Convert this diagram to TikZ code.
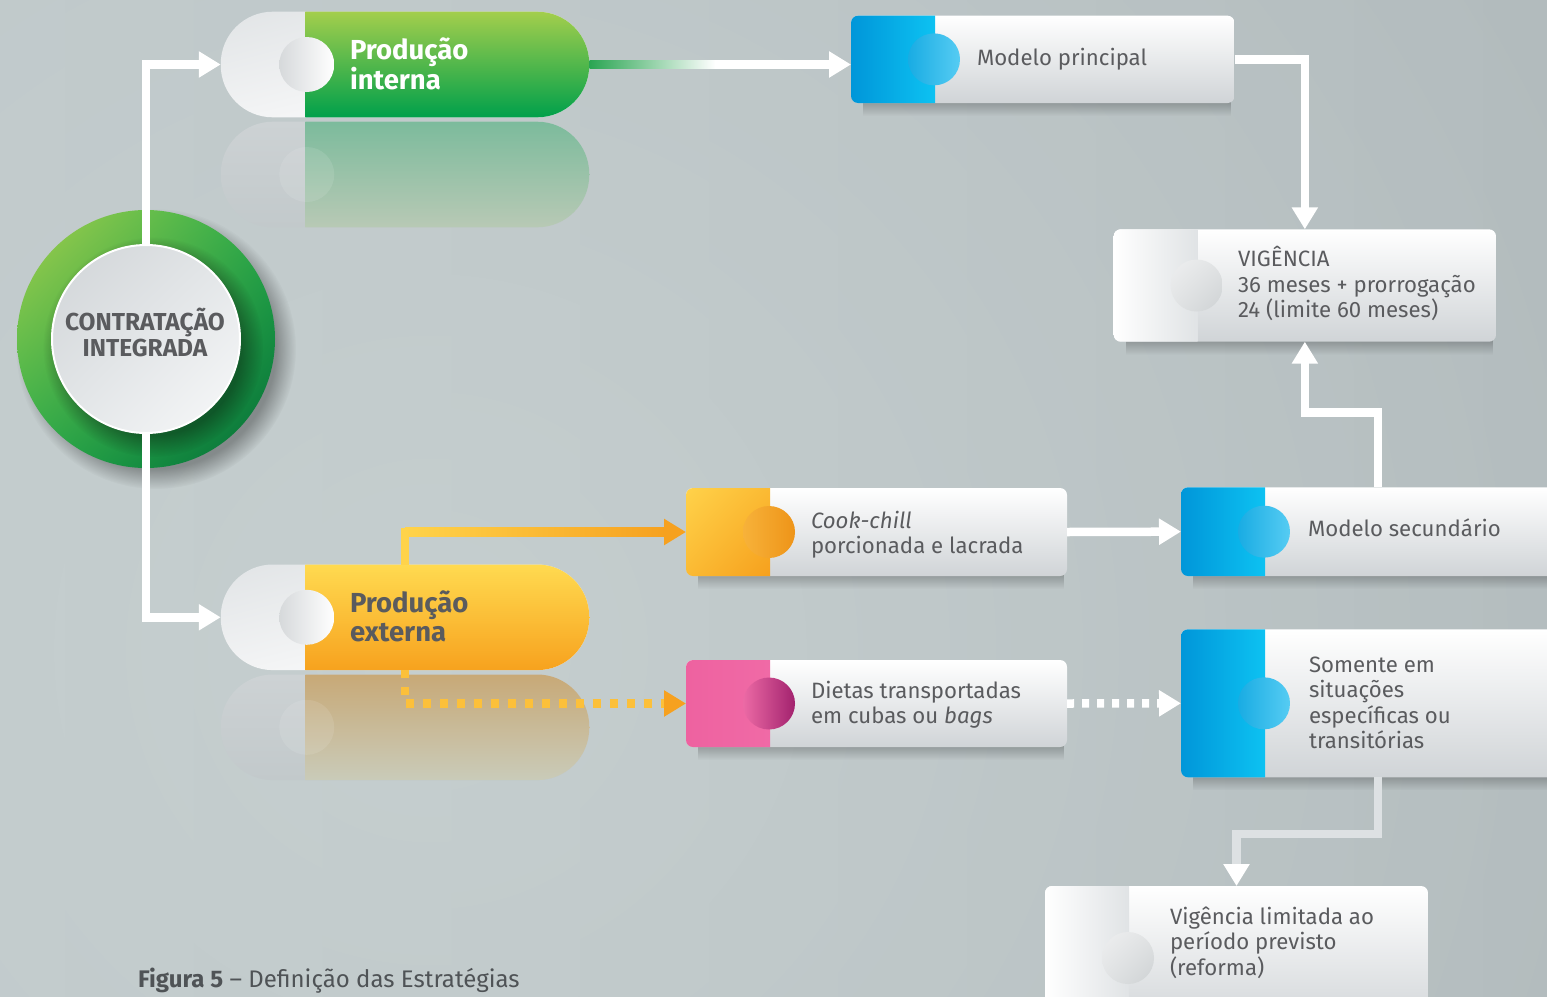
\documentclass[tikz,border=0pt]{standalone}
\usepackage{fontspec}
\setmainfont{Fira Sans}
\usetikzlibrary{arrows.meta,calc,fadings,shadings}
\definecolor{txtgray}{HTML}{5A5B5E}
\definecolor{capgray}{HTML}{4F5356}
\definecolor{cardbot}{HTML}{D0D4D7}
\definecolor{bgL}{HTML}{BEC7C9}
\definecolor{bgR}{HTML}{B2BBBD}
\definecolor{bgglow}{HTML}{CAD3D3}
\definecolor{ringA}{HTML}{A8D04C}
\definecolor{ringB}{HTML}{28AC4A}
\definecolor{ringC}{HTML}{006B37}
\definecolor{inA}{HTML}{D0D4D7}
\definecolor{inB}{HTML}{E3E6E8}
\definecolor{inC}{HTML}{F8F9FA}
\definecolor{grT}{HTML}{A3CE4C}
\definecolor{grM}{HTML}{40B44A}
\definecolor{grB}{HTML}{00A04B}
\definecolor{plA}{HTML}{E1E4E6}
\definecolor{plB}{HTML}{F2F3F4}
\definecolor{yeT}{HTML}{FFDA50}
\definecolor{yeM}{HTML}{FDC03A}
\definecolor{yeB}{HTML}{F7A21E}
\definecolor{blA}{HTML}{0096D9}
\definecolor{blB}{HTML}{0DC2F2}
\definecolor{bcA}{HTML}{19ACE3}
\definecolor{bcB}{HTML}{56CCF3}
\definecolor{orA}{HTML}{FFD24A}
\definecolor{orM}{HTML}{FBBA33}
\definecolor{orB}{HTML}{F6A01D}
\definecolor{ocA}{HTML}{F7B23A}
\definecolor{ocB}{HTML}{EE9418}
\definecolor{pkA}{HTML}{EE62A0}
\definecolor{pkB}{HTML}{F06AA6}
\definecolor{pcA}{HTML}{EC6AA5}
\definecolor{pcB}{HTML}{A2226E}
\definecolor{ltR}{HTML}{E0E3E5}
\definecolor{lcA}{HTML}{EEEFF0}
\definecolor{lcM}{HTML}{E1E3E4}
\definecolor{lcB}{HTML}{CDD1D3}
\definecolor{pcircA}{HTML}{D6D9DB}
\definecolor{grRefT}{HTML}{7CBB9C}
\definecolor{grRefB}{HTML}{B8C9B5}
\definecolor{yeRefT}{HTML}{C8A977}
\definecolor{yeRefB}{HTML}{C9CBB9}
\definecolor{lRefT}{HTML}{CDD2D4}
\definecolor{lRefB}{HTML}{C2C9CB}
\definecolor{gline}{HTML}{2AA552}
\definecolor{yline}{HTML}{FFD34A}
\definecolor{oline}{HTML}{F6A11F}
\definecolor{dline}{HTML}{FCC03A}
\definecolor{lgline}{HTML}{DDE1E3}
\tikzfading[name=shfade, top color=transparent!30, bottom color=transparent!100]
\tikzfading[name=glowfade, inner color=transparent!0, outer color=transparent!100]
\newcommand\mlines[1]{\vtop{\halign{##\hfil\cr#1\crcr}}}
\newcommand\cardshape[3]{%
  \fill[black, opacity=.4, path fading=shfade] ($(#1.south west)+(12,-4)$) rectangle ($(#1.south east)+(-3,13)$);
  \begin{scope}
    \clip[rounded corners=7pt] (#1.north west) rectangle (#1.south east);
    \shade[top color=white, bottom color=cardbot] (#1.north west) rectangle (#1.south east);
    \shade[#2] (#1.north west) rectangle ($(#1.south west)+(84,0)$);
  \end{scope}
  \shade[#3] ($(#1.west)+(83,0)$) circle (26);
}
\newcommand\pillshape[2]{%
  \begin{scope}
    \clip[rounded corners=52pt] (#1.north west) rectangle (#1.south east);
    \shade[pillL] (#1.north west) rectangle (#1.south east);
    \shade[#2] ($(#1.north west)+(84.5,0)$) rectangle (#1.south east);
  \end{scope}
  \shade[pillC] ($(#1.west)+(86,0)$) circle (27.5);
}
\newcommand\pillrefl[2]{%
  \begin{scope}
    \clip[rounded corners=52pt] ($(#1.north west)+(0,110)$) rectangle ($(#1.south east)+(0,110)$);
    \shade[top color=lRefT, bottom color=lRefB] ($(#1.north west)+(0,110)$) rectangle ($(#1.south east)+(0,110)$);
    \shade[#2] ($(#1.north west)+(84.5,110)$) rectangle ($(#1.south east)+(0,110)$);
    \fill[white, opacity=.1] ($(#1.west)+(86,110)$) circle (27.5);
  \end{scope}
}
\begin{document}
\begin{tikzpicture}[x=1pt,y=-1pt,
  anc/.style={rectangle, draw=none, inner sep=0pt, outer sep=0pt},
  lbl/.style={anchor=base west, inner sep=0pt, outer sep=0pt, text=txtgray, font=\fontsize{22.2}{25.5}\selectfont},
  plbl/.style={anchor=base west, inner sep=0pt, outer sep=0pt, font=\bfseries\fontsize{27.5}{29}\selectfont},
  wconn/.style={draw=white, line width=8.5pt, -{Triangle[length=22pt,width=25pt]}},
  yconn/.style={draw=yline, line width=8.5pt, -{Triangle[length=22pt,width=25pt,color=oline]}},
  gconn/.style={draw=lgline, line width=8.5pt, -{Triangle[length=22pt,width=25pt,color=white]}},
  pillL/.style={upper left=plA, upper right=plB, lower left=plB, lower right=white},
  pillC/.style={left color=pcircA, right color=white},
  greenR/.style={top color=grT, middle color=grM, bottom color=grB},
  yellowR/.style={top color=yeT, middle color=yeM, bottom color=yeB},
  greenRef/.style={top color=grRefT, bottom color=grRefB},
  yellowRef/.style={top color=yeRefT, bottom color=yeRefB},
  blueL/.style={left color=blA, right color=blB},
  blueC/.style={left color=bcA, right color=bcB},
  orangeL/.style={upper left=orA, upper right=orM, lower left=orM, lower right=orB},
  orangeC/.style={left color=ocA, right color=ocB},
  pinkL/.style={left color=pkA, right color=pkB},
  pinkC/.style={left color=pcA, right color=pcB},
  lightL/.style={left color=white, right color=ltR},
  lightC/.style={upper left=lcA, upper right=lcM, lower left=lcM, lower right=lcB}
]
\useasboundingbox (0,0) rectangle (1547,996);
\clip (0,0) rectangle (1547,996);
% background
\shade[left color=bgL, right color=bgR] (0,0) rectangle (1547,996);
\fill[bgglow, opacity=.7, path fading=glowfade] (430,650) circle (1300);

% anchor nodes
\node[anc, circle, minimum size=188pt] (ci) at (146,339) {};
\node[anc, minimum width=368.5pt, minimum height=105.6pt] (pi) at (405,64.5) {};
\node[anc, minimum width=368.5pt, minimum height=105.6pt] (pe) at (405,617.3) {};
\node[anc, minimum width=383.5pt, minimum height=87.3pt] (mp) at (1042.75,59.35) {};
\node[anc, minimum width=382.3pt, minimum height=112.4pt] (vig) at (1304.85,285.5) {};
\node[anc, minimum width=381pt, minimum height=88pt] (cc) at (876.5,532) {};
\node[anc, minimum width=381pt, minimum height=87pt] (dt) at (876.5,703.5) {};
\node[anc, minimum width=394pt, minimum height=88.7pt] (ms) at (1378,531.65) {};
\node[anc, minimum width=394pt, minimum height=148pt] (so) at (1378,703.3) {};
\node[anc, minimum width=383pt, minimum height=144pt] (vl) at (1236.5,958) {};

% ring
\fill[black, opacity=.32, path fading=circle with fuzzy edge 15 percent] ($(ci)+(10,10)$) circle (140);
\shade[upper left=ringA, upper right=ringB, lower left=ringB, lower right=ringC] (ci) circle (129);
\fill[black, opacity=.35, path fading=circle with fuzzy edge 20 percent] ($(ci)+(7,8)$) circle (110);
\shade[upper left=inA, upper right=inB, lower left=inB, lower right=inC] (ci) circle (94);
\draw[white, line width=2pt] (ci) circle (94);

% pills
\pillrefl{pi}{greenRef}
\pillrefl{pe}{yellowRef}
\pillshape{pi}{greenR}
\pillshape{pe}{yellowR}

% cards
\cardshape{mp}{blueL}{blueC}
\cardshape{vig}{lightL}{lightC}
\cardshape{cc}{orangeL}{orangeC}
\cardshape{dt}{pinkL}{pinkC}
\cardshape{ms}{blueL}{blueC}
\cardshape{so}{blueL}{blueC}
\cardshape{vl}{lightL}{lightC}

% connectors
\draw[wconn] (ci.north) |- (pi.west);
\draw[wconn] (ci.south) |- (pe.west);
\draw[wconn] (pi.east) -- (pi.east -| mp.west);
\shade[left color=gline, right color=white] ($(pi.east)+(0,-4.25)$) rectangle ($(pi.east)+(126,4.25)$);
\draw[wconn] (mp.east) -| (vig.north);
\draw[wconn] (ms.north) -- ++(0,-75) -| (vig.south);
\draw[wconn] (cc.east) -- (ms.west);
\draw[wconn, dash pattern=on 7pt off 8pt] (dt.east) -- (so.west);
\draw[yconn] (pe.north) |- (cc.west);
\shade[left color=yline, right color=oline] ($(pe.north |- cc.west)+(0,-4.25)$) rectangle ($(cc.west)+(-21,4.25)$);
\draw[yconn, draw=dline, dash pattern=on 8pt off 9pt] (pe.south) |- (dt.west);
\draw[gconn] (so.south) -- ++(0,56.7) -| (vl.north);

% texts
\node[plbl, text=white] (pit) at (350,59.3) {\mlines{Produção\cr interna}};
\node[plbl, text=txtgray] (pet) at (350,612.7) {\mlines{Produção\cr externa}};
\node[inner sep=0pt, text=txtgray, align=center, font=\bfseries\fontsize{24.5}{26}\selectfont] (cit) at (145,332) {CONTRATAÇÃO\\INTEGRADA};
\node[lbl] (mpt) at (977,65.7) {Modelo principal};
\node[lbl] (vigt) at (1238,266.7) {\mlines{VIGÊNCIA\cr 36 meses + prorrogação\cr 24 (limite 60 meses)}};
\node[lbl] (cct) at (811,528.3) {\mlines{\textit{Cook-chill}\cr porcionada e lacrada}};
\node[lbl] (dtt) at (811,698.3) {\mlines{Dietas transportadas\cr em cubas ou \textit{bags}}};
\node[lbl] (mst) at (1308,536.7) {Modelo secundário};
\node[lbl] (sot) at (1309,672) {\mlines{Somente em\cr situações\cr específicas ou\cr transitórias}};
\node[lbl] (vlt) at (1170,924) {\mlines{Vigência limitada ao\cr período previsto\cr (reforma)}};
\node[anchor=base west, inner sep=0pt, text=capgray, font=\fontsize{24}{27}\selectfont] (cap) at (138,987) {\textbf{Figura 5} – Definição das Estratégias};
\end{tikzpicture}
\end{document}
